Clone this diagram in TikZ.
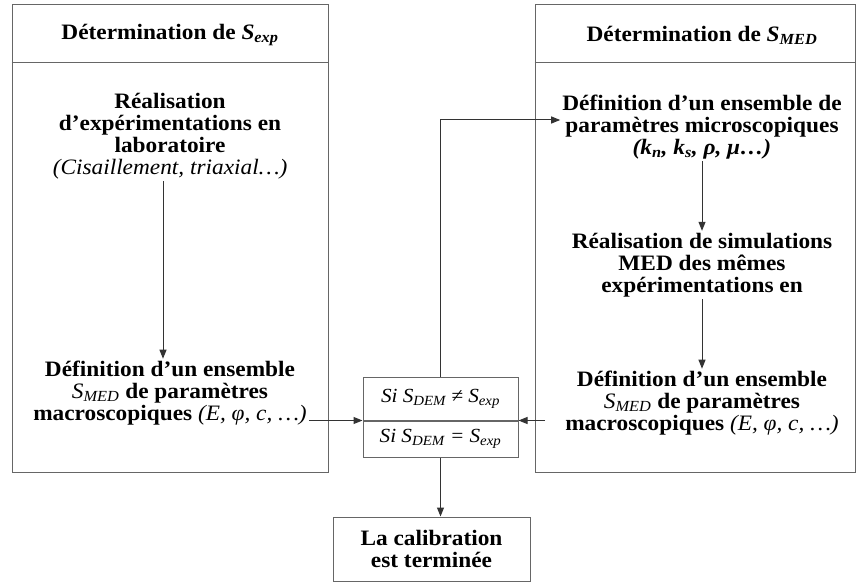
\documentclass[tikz,border=0pt]{standalone}
\usepackage{fontspec}
\setmainfont{Liberation Serif}[FakeStretch=1.06]
\usetikzlibrary{arrows.meta}

\begin{document}
\begin{tikzpicture}[x=1pt, y=-1pt,
  panel/.style={draw=black!60, line width=1pt, inner sep=0pt},
  txt/.style={align=center, inner sep=2pt,
              font=\fontsize{22}{22}\selectfont\bfseries},
  test/.style={draw=black!60, line width=1pt, minimum width=155pt,
               inner sep=0pt, font=\fontsize{20}{21}\selectfont\itshape},
  >={Triangle[length=9pt, width=7pt]}]
\useasboundingbox (0,0) rectangle (856,583);
% the two panels
\node[panel, minimum width=316pt, minimum height=467pt] (lpanel) at (170,238.5) {};
\node[panel, minimum width=320pt, minimum height=467pt] (rpanel) at (695,238.5) {};
\draw[black!60, line width=1pt] (lpanel.west |- 0,63) -- (lpanel.east |- 0,63);
\draw[black!60, line width=1pt] (rpanel.west |- 0,63) -- (rpanel.east |- 0,63);
\node[txt] (lhead) at (170,35) {Détermination de \textit{S}\textsubscript{\textit{exp}}};
\node[txt] (rhead) at (702,35) {Détermination de \textit{S}\textsubscript{\textit{MED}}};
% left column
\node[txt] (lexp) at (170,136)
  {Réalisation\\d’expérimentations en\\laboratoire\\
   {\mdseries\itshape (Cisaillement, triaxial…)}};
\node[txt] (lmacro) at (170,393)
  {Définition d’un ensemble\\
   {\mdseries\itshape S\textsubscript{MED}} de paramètres\\
   macroscopiques {\mdseries\itshape (E, φ, c, …)}};
% right column
\node[txt] (rmicro) at (702,127)
  {Définition d’un ensemble de\\paramètres microscopiques\\
   {\itshape (k\textsubscript{n}, k\textsubscript{s}, ρ, μ…)}};
\node[txt] (rsim) at (702,265)
  {Réalisation de simulations\\MED des mêmes\\expérimentations en};
\node[txt] (rmacro) at (702,403)
  {Définition d’un ensemble\\
   {\mdseries\itshape S\textsubscript{MED}} de paramètres\\
   macroscopiques {\mdseries\itshape (E, φ, c, …)}};
% comparison and end
\node[test, minimum height=43pt] (neq) at (440.5,398.5)
  {Si S\textsubscript{DEM} ≠ S\textsubscript{exp}};
\node[test, minimum height=36pt, anchor=north] (eq) at (neq.south)
  {Si S\textsubscript{DEM} = S\textsubscript{exp}};
\node[panel, txt, minimum width=197pt, minimum height=64pt] (calib) at (431.5,549)
  {La calibration\\est terminée};
\begin{scope}[line width=1pt, black!80]
\draw[->] ([xshift=-7pt]lexp.south) -- ([xshift=-7pt]lmacro.north);
\draw[->] (rmicro) -- (rsim);
\draw[->] (rsim) -- (rmacro);
\draw[->] (lmacro.east |- eq.north west) -- (eq.north west);
\draw[->] ([xshift=-18pt]rmacro.west |- eq.north east) -- (eq.north east);
\draw[->] (neq.north) |- ([yshift=7pt]rmicro.west);
\draw[->] (eq.south) -- (eq.south |- calib.north);
\end{scope}
\end{tikzpicture}
\end{document}
